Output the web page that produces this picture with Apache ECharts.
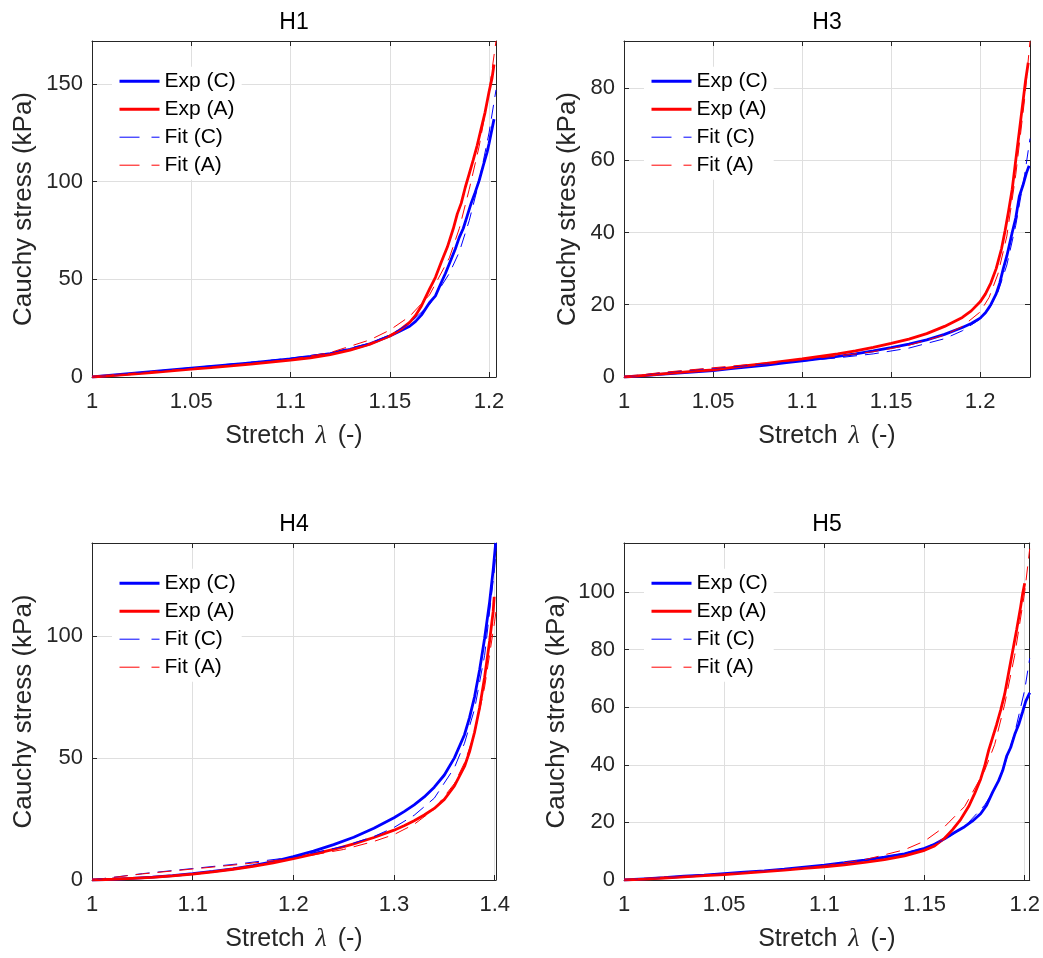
<!DOCTYPE html>
<html>
<head>
<meta charset="utf-8">
<script src="https://cdn.jsdelivr.net/npm/echarts@6/dist/echarts.min.js"></script>
<style>
  html, body { margin: 0; padding: 0; background: #fff; }
  #chart { width: 1043px; height: 958px; }
</style>
</head>
<body>
<div id="chart"></div>
<script>
// ---- Stress–stretch data: [stretch λ, Cauchy stress kPa] ----

// H1
const h1ExpC = [[1.000,0],[1.010,0.9],[1.020,1.8],[1.030,2.7],[1.040,3.6],[1.050,4.5],[1.060,5.4],[1.070,6.3],[1.080,7.2],[1.090,8.2],[1.100,9.3],[1.110,10.5],[1.120,12.0],[1.130,14.1],[1.140,17.0],[1.150,21.0],[1.155,23.4],[1.160,26.0],[1.163,28.5],[1.166,31.8],[1.170,38.0],[1.173,41.5],[1.176,48.5],[1.178,53.0],[1.180,58.0],[1.183,65.5],[1.185,71.5],[1.187,76.0],[1.189,82.5],[1.191,89.0],[1.193,94.5],[1.195,100.5],[1.197,108.0],[1.199,115.0],[1.200,119.5],[1.2015,127.0],[1.2025,132.0]];
const h1ExpA = [[1.000,0],[1.010,0.7],[1.020,1.5],[1.030,2.3],[1.040,3.1],[1.050,4.0],[1.060,4.8],[1.070,5.7],[1.080,6.6],[1.090,7.6],[1.100,8.6],[1.110,9.8],[1.120,11.5],[1.130,13.8],[1.140,16.8],[1.150,21.0],[1.155,24.0],[1.160,28.0],[1.163,31.5],[1.166,36.5],[1.170,45.0],[1.173,51.0],[1.176,59.0],[1.179,66.5],[1.182,76.0],[1.184,83.5],[1.186,89.0],[1.188,97.0],[1.190,104.0],[1.192,111.0],[1.194,118.5],[1.196,127.0],[1.198,135.5],[1.200,146.0],[1.2015,153.0],[1.2025,160.0]];
const h1FitC = [[1.000,0],[1.020,1.9],[1.040,3.8],[1.060,5.7],[1.080,7.6],[1.100,9.6],[1.120,12.4],[1.140,17.3],[1.150,21.5],[1.160,27.5],[1.170,37.0],[1.180,53.0],[1.185,64.0],[1.190,80.0],[1.195,100.0],[1.200,125.0],[1.2035,147.0]];
const h1FitA = [[1.000,0],[1.020,1.6],[1.040,3.3],[1.060,5.0],[1.080,6.9],[1.100,9.0],[1.120,12.5],[1.140,19.0],[1.150,24.0],[1.160,31.0],[1.170,42.0],[1.180,61.0],[1.185,76.0],[1.190,96.0],[1.195,118.0],[1.200,146.0],[1.2035,172.0]];

// H3
const h3ExpC = [[1.000,0],[1.010,0.3],[1.020,0.7],[1.030,1.1],[1.040,1.4],[1.050,1.8],[1.060,2.3],[1.070,2.8],[1.080,3.3],[1.090,3.9],[1.100,4.5],[1.110,5.1],[1.120,5.7],[1.130,6.4],[1.140,7.2],[1.150,8.1],[1.160,9.1],[1.170,10.3],[1.180,11.8],[1.190,13.7],[1.195,14.8],[1.200,16.3],[1.203,17.8],[1.206,20.0],[1.209,23.0],[1.211,26.0],[1.213,30.0],[1.215,33.5],[1.218,40.0],[1.220,44.0],[1.222,50.0],[1.224,53.0],[1.226,56.5],[1.2275,58.5]];
const h3ExpA = [[1.000,0],[1.010,0.4],[1.020,0.8],[1.030,1.2],[1.040,1.6],[1.050,2.0],[1.060,2.6],[1.070,3.2],[1.080,3.8],[1.090,4.4],[1.100,5.0],[1.110,5.7],[1.120,6.4],[1.130,7.2],[1.140,8.2],[1.150,9.3],[1.160,10.5],[1.170,12.0],[1.180,14.0],[1.190,16.5],[1.195,18.3],[1.200,20.8],[1.203,23.0],[1.206,26.0],[1.209,30.0],[1.212,35.5],[1.214,40.5],[1.216,46.0],[1.218,52.0],[1.220,60.0],[1.222,68.0],[1.224,76.0],[1.2255,82.0],[1.227,87.0]];
const h3FitC = [[1.000,0],[1.020,1.1],[1.040,2.0],[1.060,2.8],[1.080,3.6],[1.100,4.4],[1.120,5.3],[1.140,6.4],[1.160,8.0],[1.180,10.6],[1.190,12.8],[1.200,16.0],[1.205,18.8],[1.210,23.5],[1.215,31.0],[1.220,42.0],[1.225,56.0],[1.228,66.0]];
const h3FitA = [[1.000,0],[1.020,1.2],[1.040,2.1],[1.060,3.0],[1.080,3.9],[1.100,4.8],[1.120,5.8],[1.140,7.0],[1.160,8.8],[1.180,11.6],[1.190,14.0],[1.200,18.0],[1.205,22.0],[1.210,28.5],[1.215,39.0],[1.220,56.0],[1.225,77.0],[1.228,93.0]];

// H4
const h4ExpC = [[1.00,0],[1.02,0.3],[1.04,0.7],[1.06,1.2],[1.08,1.8],[1.10,2.6],[1.12,3.5],[1.14,4.6],[1.16,5.9],[1.18,7.5],[1.20,9.6],[1.22,11.8],[1.24,14.5],[1.26,17.5],[1.28,21.2],[1.30,25.5],[1.31,28.0],[1.32,30.8],[1.33,34.0],[1.34,38.0],[1.35,43.0],[1.36,50.0],[1.37,59.5],[1.375,66.5],[1.38,75.0],[1.385,86.0],[1.39,99.0],[1.395,114.0],[1.3985,127.0],[1.401,138.0]];
const h4ExpA = [[1.00,0],[1.02,0.3],[1.04,0.7],[1.06,1.1],[1.08,1.7],[1.10,2.4],[1.12,3.3],[1.14,4.4],[1.16,5.6],[1.18,7.0],[1.20,8.8],[1.22,10.6],[1.24,12.5],[1.26,14.8],[1.28,17.4],[1.30,20.4],[1.31,22.2],[1.32,24.3],[1.33,26.6],[1.34,29.3],[1.35,33.0],[1.36,38.5],[1.37,46.5],[1.375,52.5],[1.38,60.5],[1.385,70.5],[1.39,83.0],[1.395,98.0],[1.3985,110.0],[1.3995,116.0]];
const h4FitC = [[1.00,0],[1.05,2.6],[1.10,4.7],[1.15,6.8],[1.20,9.4],[1.25,13.8],[1.28,17.8],[1.30,21.5],[1.32,26.5],[1.34,33.5],[1.36,46.0],[1.37,56.0],[1.38,70.0],[1.39,92.0],[1.40,128.0],[1.4013,135.0]];
const h4FitA = [[1.00,0],[1.05,2.5],[1.10,4.5],[1.15,6.5],[1.20,8.8],[1.25,12.5],[1.28,15.8],[1.30,18.6],[1.32,22.8],[1.34,29.0],[1.36,39.5],[1.37,48.0],[1.38,60.0],[1.39,79.0],[1.40,106.0],[1.4013,110.0]];

// H5
const h5ExpC = [[1.000,0],[1.010,0.4],[1.020,0.8],[1.030,1.3],[1.040,1.7],[1.050,2.2],[1.060,2.7],[1.070,3.2],[1.080,3.8],[1.090,4.5],[1.100,5.2],[1.110,6.0],[1.120,6.9],[1.130,7.9],[1.140,9.1],[1.150,11.0],[1.155,12.4],[1.160,14.3],[1.165,16.5],[1.170,18.5],[1.174,20.5],[1.178,23.0],[1.181,26.0],[1.184,30.5],[1.187,34.5],[1.189,38.0],[1.191,43.0],[1.193,46.0],[1.195,50.5],[1.197,54.0],[1.199,58.5],[1.2005,62.0],[1.2025,65.0]];
const h5ExpA = [[1.000,0],[1.010,0.3],[1.020,0.7],[1.030,1.1],[1.040,1.5],[1.050,1.9],[1.060,2.4],[1.070,2.9],[1.080,3.4],[1.090,4.0],[1.100,4.6],[1.110,5.3],[1.120,6.1],[1.130,7.1],[1.140,8.4],[1.150,10.3],[1.155,11.8],[1.160,14.5],[1.164,17.5],[1.168,21.0],[1.172,25.5],[1.175,30.0],[1.178,35.0],[1.180,39.5],[1.182,45.0],[1.184,49.5],[1.186,54.0],[1.188,59.0],[1.190,64.5],[1.192,72.0],[1.194,79.5],[1.196,87.0],[1.198,95.0],[1.199,99.5],[1.200,103.0]];
const h5FitC = [[1.000,0],[1.020,0.9],[1.040,1.8],[1.060,2.7],[1.080,3.7],[1.100,5.0],[1.120,6.7],[1.140,9.3],[1.150,11.2],[1.160,14.0],[1.170,18.5],[1.180,26.0],[1.185,31.5],[1.190,40.0],[1.195,51.0],[1.200,66.0],[1.2025,77.0]];
const h5FitA = [[1.000,0],[1.020,0.8],[1.040,1.7],[1.060,2.6],[1.080,3.6],[1.100,5.0],[1.120,7.0],[1.140,10.5],[1.150,13.5],[1.160,18.5],[1.170,25.5],[1.180,38.0],[1.185,47.0],[1.190,61.0],[1.195,78.0],[1.200,100.0],[1.2025,115.0]];

// ---- Tick labels ----
const xTicksFine = ['1', '1.05', '1.1', '1.15', '1.2'];
const xTicksWide = ['1', '1.1', '1.2', '1.3', '1.4'];
const h1YTicks = ['0', '50', '100', '150'];
const h3YTicks = ['0', '20', '40', '60', '80'];
const h4YTicks = ['0', '50', '100'];
const h5YTicks = ['0', '20', '40', '60', '80', '100'];

const panelTitles = ['H1', 'H3', 'H4', 'H5'];
const legendNames = ['Exp (C)', 'Exp (A)', 'Fit (C)', 'Fit (A)'];

// ---- Layout ----
const FONT = "'Liberation Sans', Arial, Helvetica, sans-serif";
const AXIS_COLOR = '#262626';
const GRID_COLOR = '#dfdfdf';
const BLUE = '#0000ff';
const RED = '#ff0000';

const panels = [
  { title: panelTitles[0], left: 92,  top: 41,  width: 404, height: 336,
    xMax: 1.2035, xInt: 0.05, yMax: 172, yInt: 50, xTicks: xTicksFine, yTicks: h1YTicks, yGap: 55,
    curves: [h1ExpC, h1ExpA, h1FitC, h1FitA] },
  { title: panelTitles[1], left: 624, top: 41,  width: 406, height: 336,
    xMax: 1.228, xInt: 0.05, yMax: 93, yInt: 20, xTicks: xTicksFine, yTicks: h3YTicks, yGap: 43,
    curves: [h3ExpC, h3ExpA, h3FitC, h3FitA] },
  { title: panelTitles[2], left: 92,  top: 543, width: 404, height: 337,
    xMax: 1.4013, xInt: 0.1, yMax: 138, yInt: 50, xTicks: xTicksWide, yTicks: h4YTicks, yGap: 55,
    curves: [h4ExpC, h4ExpA, h4FitC, h4FitA] },
  { title: panelTitles[3], left: 624, top: 543, width: 406, height: 337,
    xMax: 1.2025, xInt: 0.05, yMax: 117, yInt: 20, xTicks: xTicksFine, yTicks: h5YTicks, yGap: 54,
    curves: [h5ExpC, h5ExpA, h5FitC, h5FitA] }
];

function tickLabel(v, labels) {
  for (const s of labels) {
    if (Math.abs(parseFloat(s) - v) < 1e-6) return s;
  }
  return '';
}

const option = {
  backgroundColor: '#fff',
  animation: false,
  title: [], grid: [], xAxis: [], yAxis: [], legend: [], series: []
};

const lineColors = [BLUE, RED, BLUE, RED];
const dashed = [false, false, true, true];

panels.forEach((p, i) => {
  option.title.push({
    text: p.title,
    left: p.left + p.width / 2,
    top: p.top - 30,
    textAlign: 'center',
    padding: 0,
    textStyle: { fontFamily: FONT, fontSize: 23, fontWeight: 'normal', color: '#000' }
  });

  option.grid.push({ left: p.left, top: p.top, width: p.width, height: p.height, containLabel: false });

  const boxLine = { onZero: false, lineStyle: { color: AXIS_COLOR, width: 1 } };
  const tick = { inside: true, length: 5, lineStyle: { color: AXIS_COLOR, width: 1 } };

  // bottom x axis
  option.xAxis.push({
    gridIndex: i, type: 'value', position: 'bottom',
    min: 1, max: p.xMax, interval: p.xInt,
    axisLine: boxLine, axisTick: tick,
    axisLabel: { margin: 14, fontFamily: FONT, fontSize: 22, color: AXIS_COLOR,
                 formatter: v => tickLabel(v, p.xTicks) },
    splitLine: { show: true, lineStyle: { color: GRID_COLOR, width: 1 } },
    name: 'Stretch {i|λ} (-)', nameLocation: 'middle', nameGap: 46,
    nameTextStyle: { fontFamily: FONT, fontSize: 25, color: AXIS_COLOR,
      rich: { i: { fontFamily: "'Liberation Serif', 'DejaVu Serif', serif", fontStyle: 'italic',
                   fontSize: 26, color: AXIS_COLOR, padding: [0, 4, 0, 4] } } }
  });
  // top x axis (box edge)
  option.xAxis.push({
    gridIndex: i, type: 'value', position: 'top',
    min: 1, max: p.xMax, interval: p.xInt,
    axisLine: boxLine, axisTick: tick,
    axisLabel: { show: false }, splitLine: { show: false }
  });

  // left y axis
  option.yAxis.push({
    gridIndex: i, type: 'value', position: 'left',
    min: 0, max: p.yMax, interval: p.yInt,
    axisLine: boxLine, axisTick: tick,
    axisLabel: { margin: 9, fontFamily: FONT, fontSize: 22, color: AXIS_COLOR,
                 formatter: v => tickLabel(v, p.yTicks) },
    splitLine: { show: true, lineStyle: { color: GRID_COLOR, width: 1 } },
    name: 'Cauchy stress (kPa)', nameLocation: 'middle', nameGap: p.yGap,
    nameTextStyle: { fontFamily: FONT, fontSize: 26, color: AXIS_COLOR }
  });
  // right y axis (box edge)
  option.yAxis.push({
    gridIndex: i, type: 'value', position: 'right',
    min: 0, max: p.yMax, interval: p.yInt,
    axisLine: boxLine, axisTick: tick,
    axisLabel: { show: false }, splitLine: { show: false }
  });

  p.curves.forEach((data, k) => {
    option.series.push({
      name: legendNames[k],
      type: 'line',
      data: data,
      xAxisIndex: 2 * i,
      yAxisIndex: 2 * i,
      symbol: 'none',
      silent: true,
      color: lineColors[k],
      z: dashed[k] ? 3 : 2,
      lineStyle: { color: lineColors[k], width: dashed[k] ? 1 : 2.8, type: dashed[k] ? [14, 8] : 'solid' }
    });
  });

  option.legend.push({
    orient: 'vertical',
    left: p.left + 20,
    top: p.top + 25.7,
    padding: [4, 6, 4, 6],
    itemWidth: 40,
    itemHeight: 14,
    itemGap: 7,
    selectedMode: false,
    backgroundColor: '#fff',
    itemStyle: { opacity: 0 },
    textStyle: { fontFamily: FONT, fontSize: 21, color: '#000' },
    data: [
      { name: legendNames[0], lineStyle: { width: 3 } },
      { name: legendNames[1], lineStyle: { width: 3 } },
      { name: legendNames[2], lineStyle: { width: 1, type: [20, 12] } },
      { name: legendNames[3], lineStyle: { width: 1, type: [20, 12] } }
    ]
  });
});

const chart = echarts.init(document.getElementById('chart'), null, { renderer: 'canvas' });
chart.setOption(option);
</script>
</body>
</html>
